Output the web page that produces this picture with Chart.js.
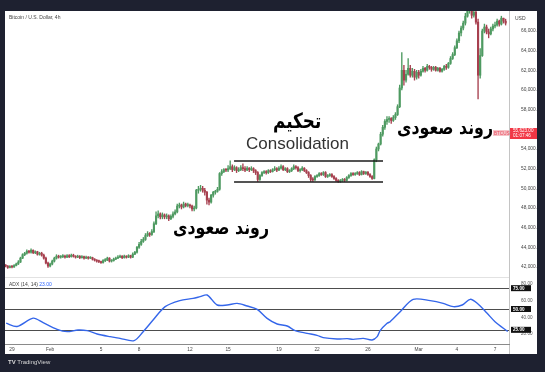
<!DOCTYPE html>
<html>
<head>
<meta charset="utf-8">
<script src="https://cdn.jsdelivr.net/npm/chart.js@4.4.1/dist/chart.umd.min.js"></script>
<style>
  body { margin: 0; width: 545px; height: 372px; background: #1e2130; position: relative; overflow: hidden; font-family: "Liberation Sans", Arial, sans-serif; }
  #panel { position: absolute; left: 5px; top: 11px; width: 532px; height: 343px; background: #fff; }
  canvas { position: absolute; left: 5px; }
  #main { top: 11px; }
  #adx { top: 278px; }
  .txt { position: absolute; white-space: nowrap; }
  .fa { font-family: "DejaVu Sans", sans-serif; font-weight: bold; color: #000; direction: rtl; transform-origin: left top; }
</style>
</head>
<body>
<div id="panel"></div>
<div style="position:absolute;left:5px;top:277px;width:504px;height:1px;background:#e2e2e2"></div>
<div style="position:absolute;left:509px;top:11px;width:1px;height:343px;background:#c4c4c4"></div>
<canvas id="main" width="532" height="267"></canvas>
<canvas id="adx" width="532" height="76"></canvas>

<div class="txt" style="left:9px;top:14px;font-size:5px;color:#444">Bitcoin / U.S. Dollar, 4h</div>
<div class="txt" style="left:515px;top:15px;font-size:5px;color:#444">USD</div>
<div class="txt" style="left:9px;top:281px;font-size:5px;color:#444">ADX (14, 14) <span style="color:#2962ff">23.00</span></div>
<div class="txt" style="left:8px;top:359px;font-size:6px;color:#d8d8d8"><b>TV</b> TradingView</div>

<div class="txt fa" style="left:273px;top:109px;font-size:21px;transform:scaleX(0.8)">تحکیم</div>
<div class="txt" style="left:246px;top:134px;font-size:17px;color:#333">Consolidation</div>
<div class="txt fa" style="left:397px;top:116px;font-size:19px;transform:scaleX(0.83)">روند صعودی</div>
<div class="txt fa" style="left:173px;top:216px;font-size:19px;transform:scaleX(0.83)">روند صعودی</div>

<script>
// 4h candles, first one opens Jan 28 12:00 (day -3.5, day 0 = Feb 1)
const firstCandleDay = -3.5;
const firstOpen = 42150;

const closes = [
  42100, 41950, 42050,                         // Jan 28
  42000, 42150, 42300, 42500, 42900, 43250,    // Jan 29
  43400, 43600, 43500, 43700, 43450, 43550,    // Jan 30
  43300, 43400, 43200, 42900, 42400, 42100,    // Jan 31
  42300, 42600, 42900, 43100, 43000, 43050,    // Feb 1
  43100, 43000, 43150, 43050, 43200, 43100,
  43000, 43100, 42950, 43050, 42900, 43000,
  42900, 42950, 42800, 42700, 42600, 42550,
  42450, 42650, 42700, 42900, 42600, 42650,    // Feb 5
  42800, 42900, 43000, 43100, 42950, 43100,
  43000, 43150, 43000, 43300, 43500, 44000,
  44300, 44600, 44800, 45200, 45400, 45300,    // Feb 8
  45600, 46400, 47200, 47400, 47100, 47300,
  47100, 47200, 46900, 47150, 47400, 47600,
  48200, 48300, 48100, 48400, 48250, 48300,
  48200, 47900, 48000, 49800, 49900, 50000,    // Feb 12
  49800, 49600, 48800, 48600, 49300, 49600,
  49700, 49900, 51500, 51700, 51900, 51850,
  52000, 52200, 51900, 52100, 51800, 51900,    // Feb 15
  52100, 52000, 51850, 52050, 51900, 52000,
  51800, 51600, 50900, 51300, 51600, 51700,
  51600, 51800, 51700, 51900, 52000, 51850,
  52050, 52200, 51900, 52000, 51700, 51800,    // Feb 19
  52000, 52200, 52100, 51800, 51900, 52050,
  51800, 51600, 51300, 50900, 50850, 51200,
  51300, 51500, 51400, 51600, 51200, 51300,    // Feb 22
  51400, 51200, 51000, 50800, 50700, 50800,
  50900, 50800, 51100, 51300, 51500, 51400,
  51500, 51600, 51400, 51700, 51500, 51650,
  51400, 51200, 51000, 52900, 54000, 54500,    // Feb 26
  55500, 56200, 56800, 57000, 57100, 56900,
  57200, 57500, 58300, 60200, 62000, 61000,
  61600, 62200, 61500, 61900, 61300, 61800,
  61500, 61900, 62200, 62000, 62400, 62300,    // Mar 1
  62100, 62300, 62000, 62200, 61900, 62100,
  62400, 62300, 62700, 63200, 63600, 64300,
  65000, 65800, 66300, 66800, 67500, 68100,    // Mar 4
  68300, 67600, 67900, 66900, 61500, 63500,
  66000, 66400, 65900, 65700, 66200, 66500,
  66600, 67000, 66700, 67300, 67000, 66800,    // Mar 7
];

const highs = [
  42250, 42150, 42150,
  42150, 42250, 42400, 42650, 43000, 43350,
  43500, 43750, 43700, 43850, 43750, 43650,
  43600, 43500, 43500, 43300, 43000, 42500,
  42400, 42700, 43000, 43250, 43200, 43150,
  43250, 43200, 43250, 43250, 43300, 43300,
  43150, 43200, 43150, 43150, 43100, 43100,
  43050, 43050, 43000, 42850, 42750, 42700,
  42600, 42750, 42850, 43000, 42950, 42750,
  42900, 43000, 43150, 43200, 43150, 43200,
  43150, 43250, 43200, 43450, 43600, 44100,
  44500, 44800, 45000, 45400, 45600, 45500,
  45800, 46600, 47600, 47700, 47500, 47500,
  47400, 47400, 47300, 47300, 47600, 47800,
  48400, 48500, 48400, 48600, 48500, 48500,
  48400, 48300, 48200, 49900, 50200, 50300,
  50200, 50000, 49700, 49000, 49400, 49700,
  49800, 50100, 51600, 51900, 52000, 52000,
  52300, 52800, 52400, 52300, 52200, 52100,
  52300, 52500, 52200, 52200, 52100, 52200,
  52100, 51900, 51700, 51400, 51700, 51800,
  51800, 51900, 51900, 52000, 52200, 52100,
  52200, 52400, 52300, 52100, 52100, 51900,
  52100, 52400, 52300, 52200, 52000, 52200,
  52100, 51900, 51700, 51400, 51100, 51300,
  51400, 51600, 51600, 51700, 51700, 51400,
  51500, 51500, 51300, 51100, 50900, 50900,
  51000, 51000, 51200, 51400, 51600, 51600,
  51600, 51700, 51700, 51800, 51750, 51700,
  51700, 51500, 51300, 53000, 54200, 54600,
  55700, 56400, 57000, 57300, 57300, 57200,
  57400, 57700, 58500, 60500, 63800, 62500,
  62000, 63200, 62500, 62200, 62100, 62000,
  62000, 62100, 62400, 62300, 62600, 62500,
  62400, 62400, 62400, 62300, 62300, 62200,
  62500, 62600, 62800, 63400, 63800, 64500,
  65200, 66000, 66500, 67000, 67800, 68500,
  68800, 68600, 68300, 68200, 67200, 64200,
  66200, 66700, 66600, 66200, 66400, 66700,
  66900, 67200, 67100, 67500, 67300, 67200,
];

const lows = [
  42000, 41850, 41900,
  41900, 41950, 42100, 42250, 42450, 42850,
  43150, 43300, 43400, 43400, 43350, 43350,
  43200, 43200, 43100, 42800, 42300, 41950,
  42000, 42200, 42500, 42800, 42900, 42900,
  42950, 42900, 42950, 42950, 43000, 43000,
  42900, 42950, 42850, 42900, 42800, 42850,
  42800, 42850, 42700, 42600, 42500, 42450,
  42350, 42400, 42550, 42650, 42500, 42500,
  42600, 42750, 42850, 42950, 42850, 42900,
  42900, 42950, 42900, 42950, 43250, 43400,
  43900, 44200, 44500, 44700, 45100, 45100,
  45200, 45500, 46300, 47000, 46900, 46900,
  46900, 46900, 46700, 46800, 47000, 47300,
  47500, 48000, 47900, 48000, 48100, 48100,
  48000, 47700, 47700, 47900, 49500, 49700,
  49600, 49300, 48400, 48300, 48500, 49100,
  49400, 49600, 49800, 51300, 51600, 51700,
  51700, 51900, 51700, 51800, 51600, 51700,
  51800, 51800, 51700, 51800, 51700, 51800,
  51600, 51400, 50700, 50800, 51200, 51500,
  51450, 51500, 51600, 51650, 51800, 51700,
  51800, 51950, 51800, 51800, 51600, 51600,
  51700, 51900, 51950, 51700, 51650, 51800,
  51700, 51500, 51100, 50700, 50700, 50800,
  51100, 51200, 51300, 51300, 51100, 51100,
  51200, 51100, 50900, 50700, 50600, 50600,
  50700, 50700, 50750, 51000, 51200, 51300,
  51300, 51400, 51300, 51350, 51400, 51400,
  51300, 51100, 50900, 50950, 52700, 53800,
  54400, 55300, 56000, 56500, 56700, 56600,
  56800, 57000, 57400, 58200, 60000, 60500,
  60800, 61500, 61300, 61300, 61000, 61100,
  61200, 61400, 61800, 61800, 61900, 62100,
  61900, 62000, 61900, 61900, 61800, 61800,
  62000, 62100, 62200, 62600, 63100, 63500,
  64200, 64800, 65500, 66100, 66600, 67400,
  67800, 67300, 67400, 66700, 59100, 61200,
  63400, 65800, 65700, 65300, 65600, 66000,
  66300, 66500, 66500, 66600, 66800, 66600,
];

// consolidation box
const rangeStartDay = 14.47;
const rangeEndDay = 26.19;
const rangeHigh = 52775;
const rangeLow = 50640;

const priceTicks = [42000, 44000, 46000, 48000, 50000, 52000, 54000, 58000, 60000, 62000, 64000, 66000];
const lastPrice = 55623;
const countdown = "01:07:46";

const tickDays = [-3, 0, 4, 7, 11, 14, 18, 21, 25, 29, 32, 35];
const tickLabels = ["29", "Feb", "5", "8", "12", "15", "19", "22", "26", "Mar", "4", "7"];

const adxDays = [
  -3.46, -2.6, -1.34, -0.55, 0.55, 1.34, 2.2, 2.91, 3.7, 4.72, 5.5, 6.6, 7.32, 8.1,
  9.05, 10.2, 11.25, 11.8, 12.35, 13.14, 13.93, 14.71, 15.5, 16.29, 17.07, 17.86,
  18.65, 19.28, 20.22, 21.0, 21.48, 22.58, 23.37, 23.84, 24.63, 25.33, 25.73, 25.96,
  26.51, 26.75, 27.54, 28.56, 29.9, 30.92, 31.71, 32.42, 33.05, 33.6, 34.38, 35.0, 36.0,
];
const adxValues = [
  33, 29, 39, 33.6, 25.6, 22.8, 24.8, 24, 20, 16.8, 14.8, 12, 22.8, 36.8,
  52.8, 60, 62.8, 64.8, 66.8, 54.8, 54.8, 56.8, 53.6, 49.6, 38.8, 32,
  29.6, 24, 20.8, 18.4, 15.6, 14, 14.4, 13.6, 14.8, 12.8, 16.8, 24,
  32.8, 34.8, 46.8, 61.6, 60, 56.8, 52.8, 54.8, 61.6, 56.8, 44.8, 34.8, 23,
];
const adxTicks = [20, 40, 60, 80];
const adxLevels = [75, 50, 25];

const X_MIN = -3.55;
const X_MAX = 36.1;
const AXIS_W = 28;

Chart.defaults.font.family = '"Liberation Sans", Arial, sans-serif';

const opens = closes.map((c, i) => (i === 0 ? firstOpen : closes[i - 1]));
const candleDays = closes.map((_, i) => firstCandleDay + i / 6);
const candleColors = closes.map((c, i) => (c >= opens[i] ? "#4e9a61" : "#a7404f"));

const fmt2 = (v) => v.toLocaleString("en-US", { minimumFractionDigits: 2, maximumFractionDigits: 2 });

function fixWidth(scale) {
  scale.width = AXIS_W;
  scale.paddingTop = 0;
  scale.paddingBottom = 0;
}

const priceLabelPlugin = {
  id: "priceLabel",
  afterDraw(chart) {
    const { ctx, chartArea, scales } = chart;
    const y = scales.y.getPixelForValue(lastPrice);
    ctx.save();
    ctx.fillStyle = "#f23645";
    ctx.fillRect(chartArea.right + 1, y - 5, AXIS_W - 1, 11);
    ctx.fillStyle = "#fff";
    ctx.font = '4.6px "Liberation Sans", Arial';
    ctx.textBaseline = "middle";
    ctx.fillText(fmt2(lastPrice), chartArea.right + 4, y - 2);
    ctx.fillText(countdown, chartArea.right + 4, y + 3);
    ctx.fillStyle = "#f6c3c8";
    ctx.fillRect(chartArea.right - 16, y - 3, 16, 6);
    ctx.fillStyle = "#e8485a";
    ctx.fillText("BTCUSD", chartArea.right - 15, y + 0.3);
    ctx.restore();
  },
};

new Chart(document.getElementById("main"), {
  type: "bar",
  data: {
    datasets: [
      {
        label: "wicks",
        data: closes.map((c, i) => ({
          x: candleDays[i],
          y: [Math.min(lows[i], opens[i], c), Math.max(highs[i], opens[i], c)],
        })),
        backgroundColor: candleColors,
        barThickness: 0.7,
        grouped: false,
        clip: 0,
        order: 3,
      },
      {
        label: "bodies",
        data: closes.map((c, i) => ({ x: candleDays[i], y: [opens[i], c] })),
        backgroundColor: candleColors,
        barThickness: 1.5,
        minBarLength: 1,
        grouped: false,
        clip: 0,
        order: 2,
      },
      {
        type: "line",
        label: "range high",
        data: [{ x: rangeStartDay, y: rangeHigh }, { x: rangeEndDay, y: rangeHigh }],
        borderColor: "#1b1b1b",
        borderWidth: 1.5,
        pointRadius: 0,
        order: 1,
      },
      {
        type: "line",
        label: "range low",
        data: [{ x: rangeStartDay, y: rangeLow }, { x: rangeEndDay, y: rangeLow }],
        borderColor: "#1b1b1b",
        borderWidth: 1.5,
        pointRadius: 0,
        order: 1,
      },
    ],
  },
  options: {
    responsive: false,
    animation: false,
    events: [],
    layout: { padding: 0 },
    plugins: { legend: { display: false }, tooltip: { enabled: false } },
    scales: {
      x: { type: "linear", min: X_MIN, max: X_MAX, offset: false, display: false },
      y: {
        position: "right",
        min: 40880,
        max: 68030,
        afterBuildTicks: (scale) => { scale.ticks = priceTicks.map((v) => ({ value: v })); },
        afterFit: fixWidth,
        grid: { display: false },
        border: { display: false },
        ticks: { color: "#444", font: { size: 4.8 }, padding: 4, callback: (v) => fmt2(v) },
      },
    },
  },
  plugins: [priceLabelPlugin],
});

const adxLevelsPlugin = {
  id: "adxLevels",
  beforeDatasetsDraw(chart) {
    const { ctx, chartArea, scales } = chart;
    ctx.save();
    ctx.strokeStyle = "#4d4d4d";
    ctx.lineWidth = 1;
    adxLevels.forEach((v) => {
      const y = Math.round(scales.y.getPixelForValue(v)) + 0.5;
      ctx.beginPath();
      ctx.moveTo(chartArea.left, y);
      ctx.lineTo(chartArea.right, y);
      ctx.stroke();
    });
    ctx.restore();
  },
  afterDraw(chart) {
    const { ctx, chartArea, scales } = chart;
    ctx.save();
    ctx.font = 'bold 4.6px "Liberation Sans", Arial';
    ctx.textBaseline = "middle";
    adxLevels.forEach((v) => {
      const y = scales.y.getPixelForValue(v);
      ctx.fillStyle = "#111";
      ctx.fillRect(chartArea.right + 2, y - 3, 20, 6);
      ctx.fillStyle = "#fff";
      ctx.fillText(fmt2(v), chartArea.right + 4, y + 0.3);
    });
    // date labels under the pane
    ctx.font = '4.8px "Liberation Sans", Arial';
    ctx.fillStyle = "#444";
    ctx.textAlign = "center";
    ctx.textBaseline = "top";
    tickDays.forEach((d, i) => {
      ctx.fillText(tickLabels[i], scales.x.getPixelForValue(d), chartArea.bottom + 3.5);
    });
    ctx.restore();
  },
};

new Chart(document.getElementById("adx"), {
  type: "line",
  data: {
    datasets: [
      {
        label: "ADX",
        data: adxDays.map((d, i) => ({ x: d, y: adxValues[i] })),
        borderColor: "#3466ea",
        borderWidth: 1.4,
        tension: 0.3,
        pointRadius: 0,
      },
    ],
  },
  options: {
    responsive: false,
    animation: false,
    events: [],
    layout: { padding: 0 },
    plugins: { legend: { display: false }, tooltip: { enabled: false } },
    scales: {
      x: {
        type: "linear",
        min: X_MIN,
        max: X_MAX,
        afterFit: (scale) => { scale.height = 10; scale.paddingLeft = 0; scale.paddingRight = 0; },
        grid: { display: false },
        border: { display: true, color: "#8a8a8a" },
        ticks: { display: false },
      },
      y: {
        position: "right",
        min: 8,
        max: 87.2,
        afterBuildTicks: (scale) => { scale.ticks = adxTicks.map((v) => ({ value: v })); },
        afterFit: fixWidth,
        grid: { display: false },
        border: { display: false },
        ticks: { color: "#555", font: { size: 4.6 }, padding: 4, callback: (v) => fmt2(v) },
      },
    },
  },
  plugins: [adxLevelsPlugin],
});
</script>
</body>
</html>
